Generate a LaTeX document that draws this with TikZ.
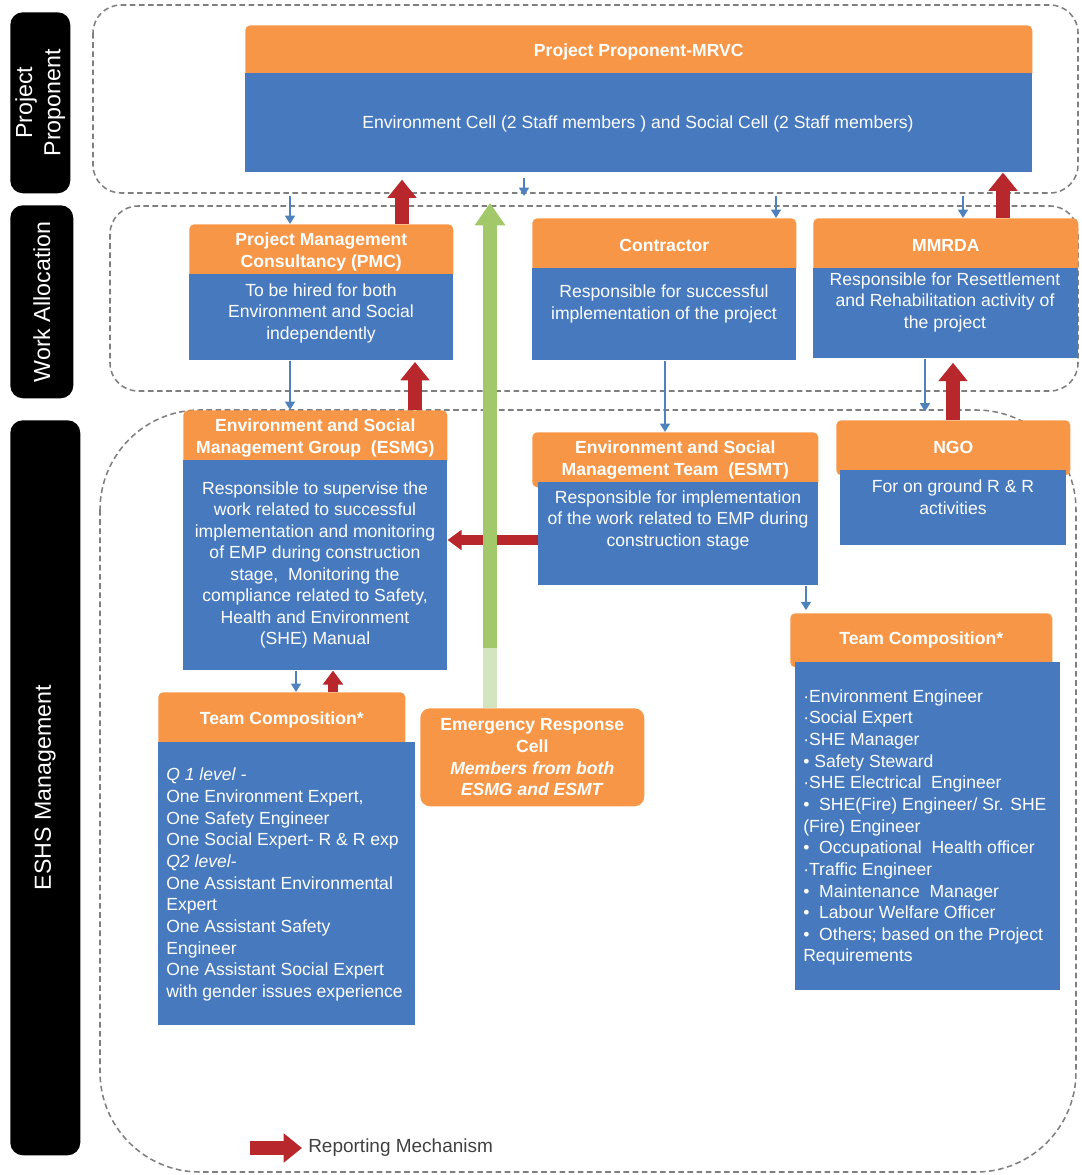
\documentclass[tikz,border=0pt]{standalone}
\usepackage{fontspec}
\setmainfont{Liberation Sans}
\usetikzlibrary{arrows.meta}
\definecolor{hdrorange}{HTML}{F79646}
\definecolor{bodyblue}{HTML}{4679BD}
\definecolor{thinblue}{HTML}{4F81BD}
\definecolor{repred}{HTML}{B8272C}
\definecolor{ergreen}{HTML}{A3C86A}
\definecolor{ergreenlt}{HTML}{D3E5BE}
\definecolor{dashgray}{HTML}{7F7F7F}
\definecolor{legendtext}{HTML}{404040}
\begin{document}
\begin{tikzpicture}[x=0.025cm,y=-0.025cm,
  region/.style={draw=dashgray, line width=1.1pt, dash pattern=on 4pt off 2.5pt},
  lanebar/.style={fill=black, rounded corners=9pt, anchor=north west, inner sep=0pt},
  lanetext/.style={text=white, font=\fontsize{16.5}{20}\selectfont, align=center, rotate=90, inner sep=0pt},
  hdr/.style={fill=hdrorange, rounded corners=3.5pt, text=white, font=\bfseries\fontsize{12.5}{15.3}\selectfont, align=center, anchor=north west, inner sep=0pt},
  bodybox/.style={fill=bodyblue, anchor=north west, inner sep=0pt},
  bodytext/.style={text=white, font=\fontsize{12.5}{15.3}\selectfont, align=center, inner sep=0pt},
  listtext/.style={text=white, font=\fontsize{12.5}{15.4}\selectfont, align=left, anchor=west, inner sep=0pt},
  thinarrow/.style={draw=thinblue, line width=1.6pt, -{Triangle[length=6pt,width=7pt]}},
  bigred/.style={draw=repred, line width=10pt, -{Triangle[length=13pt,width=20pt]}},
  smallred/.style={draw=repred, line width=7pt, -{Triangle[length=10pt,width=14pt]}},
  greenarrow/.style={draw=ergreen, line width=10.5pt, -{Triangle[length=16pt,width=21pt]}},
  greenlt/.style={draw=ergreenlt, line width=10.5pt},
  legend/.style={text=legendtext, font=\fontsize{13.5}{16}\selectfont, anchor=west, inner sep=0pt}
]
\useasboundingbox (0,0) rectangle (1081,1175);

% dashed regions
\draw[region, rounded corners=0.7cm] (93,5) rectangle (1078,193);
\draw[region, rounded corners=0.7cm] (110,206) rectangle (1078,391);
\draw[region, rounded corners=2.5cm] (100,410) rectangle (1076,1172);

% lane bars
\node[lanebar, minimum width=60*0.025cm, minimum height=181*0.025cm] (lpp) at (10,12) {};
\node[lanetext] (lppt) at (lpp.center) {Project\\Proponent};
\node[lanebar, minimum width=63*0.025cm, minimum height=193*0.025cm] (lwa) at (10,205) {};
\node[lanetext] (lwat) at (lwa.center) {Work Allocation};
\node[lanebar, minimum width=70*0.025cm, minimum height=735*0.025cm] (les) at (10,420) {};
\node[lanetext] (lest) at (les.center) {ESHS Management};

% Project proponent
\node[hdr, minimum width=787*0.025cm, minimum height=53*0.025cm] (pph) at (245,25) {Project Proponent-MRVC};
\node[bodybox, minimum width=787*0.025cm, minimum height=99*0.025cm] (ppb) at (245,73) {};
\node[bodytext] (ppt) at (638,124) {Environment Cell (2 Staff members ) and Social Cell (2 Staff members)};

% PMC
\node[hdr, minimum width=264*0.025cm, minimum height=55*0.025cm] (pmch) at (189,224) {Project Management\\Consultancy (PMC)};
\node[bodybox, minimum width=264*0.025cm, minimum height=86*0.025cm] (pmcb) at (189,274) {};
\node[bodytext] (pmct) at (321,313) {To be hired for both\\Environment and Social\\independently};

% Contractor
\node[hdr, minimum width=264*0.025cm, minimum height=55*0.025cm] (conh) at (532,218) {Contractor};
\node[bodybox, minimum width=264*0.025cm, minimum height=92*0.025cm] (conb) at (532,268) {};
\node[bodytext] (cont) at (664,304) {Responsible for successful\\implementation of the project};

% MMRDA
\node[hdr, minimum width=265*0.025cm, minimum height=55*0.025cm] (mmh) at (813,218) {MMRDA};
\node[bodybox, minimum width=265*0.025cm, minimum height=90*0.025cm] (mmb) at (813,268) {};
\node[bodytext] (mmt) at (945,302) {Responsible for Resettlement\\and Rehabilitation activity of\\the project};

% ESMG
\node[hdr, minimum width=264*0.025cm, minimum height=55*0.025cm] (esmgh) at (183,410) {Environment and Social\\Management Group~~(ESMG)};
\node[bodybox, minimum width=264*0.025cm, minimum height=210*0.025cm] (esmgb) at (183,460) {};
\node[bodytext] (esmgt) at (315,565) {Responsible to supervise the\\work related to successful\\implementation and monitoring\\of EMP during construction\\stage,~~Monitoring the\\compliance related to Safety,\\Health and Environment\\(SHE) Manual};

% ESMT
\node[hdr, minimum width=286*0.025cm, minimum height=55*0.025cm] (esmth) at (532,432) {Environment and Social\\Management Team~~(ESMT)};
\node[bodybox, minimum width=280*0.025cm, minimum height=103*0.025cm] (esmtb) at (538,482) {};
\node[bodytext] (esmtt) at (678,520) {Responsible for implementation\\of the work related to EMP during\\construction stage};

% NGO
\node[hdr, minimum width=234*0.025cm, minimum height=55*0.025cm] (ngoh) at (836,420) {NGO};
\node[bodybox, minimum width=226*0.025cm, minimum height=75*0.025cm] (ngob) at (840,470) {};
\node[bodytext] (ngot) at (953,497) {For on ground R \& R\\activities};

% Team composition left
\node[hdr, minimum width=247*0.025cm, minimum height=55*0.025cm] (tclh) at (158,692) {Team Composition*};
\node[bodybox, minimum width=257*0.025cm, minimum height=283*0.025cm] (tclb) at (158,742) {};
\node[listtext] (tclt) at (166,884.5) {\textit{Q 1 level -}\\One Environment Expert,\\One Safety Engineer\\One Social Expert- R \& R exp\\\textit{Q2 level-}\\One Assistant Environmental\\Expert\\One Assistant Safety\\Engineer\\One Assistant Social Expert\\with gender issues experience};

% Team composition right
\node[hdr, minimum width=262*0.025cm, minimum height=54*0.025cm] (tcrh) at (790,613) {Team Composition*};
\node[bodybox, minimum width=265*0.025cm, minimum height=328*0.025cm] (tcrb) at (795,662) {};
\node[listtext] (tcrt) at (803,827.5) {·Environment Engineer\\·Social Expert\\·SHE Manager\\• Safety Steward\\·SHE Electrical~~Engineer\\•~~SHE(Fire) Engineer/ Sr. SHE\\(Fire) Engineer\\•~~Occupational~~Health officer\\·Traffic Engineer\\•~~Maintenance~~Manager\\•~~Labour Welfare Officer\\•~~Others; based on the Project\\Requirements};

% Emergency response cell
\node[hdr, rounded corners=7pt, minimum width=224*0.025cm, minimum height=98*0.025cm] (erc) at (420,708) {Emergency Response\\Cell\\\textit{Members from both}\\\textit{ESMG and ESMT}};

% reporting (red) arrows
\coordinate (xr1) at (402,0);
\coordinate (xr2) at (1003,0);
\coordinate (xr3) at (415,0);
\coordinate (xr4) at (953,0);
\coordinate (xr5) at (333,0);
\coordinate (yr6) at (0,540);
\draw[bigred, shorten >=5pt] (pmch.north -| xr1) -- (ppb.south -| xr1);
\draw[bigred] (mmh.north -| xr2) -- (ppb.south -| xr2);
\draw[bigred, shorten >=1pt] (esmgh.north -| xr3) -- (pmcb.south -| xr3);
\draw[bigred, shorten >=3pt] (ngoh.north -| xr4) -- (mmb.south -| xr4);
\draw[smallred] (tclh.north -| xr5) -- (esmgb.south -| xr5);
\draw[smallred] (esmtb.west |- yr6) -- (esmgb.east |- yr6);

% allocation (thin blue) arrows
\coordinate (ta1) at (290,196);
\coordinate (ta2) at (524,196);
\coordinate (ta3) at (776,196);
\coordinate (ta4) at (963,196);
\draw[thinarrow] (ta1) -- (pmch.north -| ta1);
\draw[thinarrow, shorten <=4pt] (ppb.south -| ta2) -- (ta2);
\draw[thinarrow] (ta3) -- (conh.north -| ta3);
\draw[thinarrow] (ta4) -- (mmh.north -| ta4);
\coordinate (xt5) at (290,0);
\coordinate (xt6) at (665,0);
\coordinate (xt7) at (925,0);
\coordinate (xt8) at (296,0);
\coordinate (xt9) at (806,0);
\draw[thinarrow] (pmcb.south -| xt5) -- (esmgh.north -| xt5);
\draw[thinarrow] (conb.south -| xt6) -- (esmth.north -| xt6);
\draw[thinarrow, shorten >=6pt] (mmb.south -| xt7) -- (ngoh.north -| xt7);
\draw[thinarrow] (esmgb.south -| xt8) -- (tclh.north -| xt8);
\draw[thinarrow, shorten >=2pt] (esmtb.south -| xt9) -- (tcrh.north -| xt9);

% emergency (green) arrow
\coordinate (gtip) at (490,203);
\coordinate (gmid) at (490,648);
\draw[greenlt] (erc.north -| gtip) -- (gmid);
\draw[greenarrow] (gmid) -- (gtip);

% legend
\coordinate (lg1) at (250,1148);
\coordinate (lg2) at (302,1148);
\draw[bigred] (lg1) -- (lg2);
\node[legend] (lgt) at (308,1148) {Reporting Mechanism};
\end{tikzpicture}
\end{document}
